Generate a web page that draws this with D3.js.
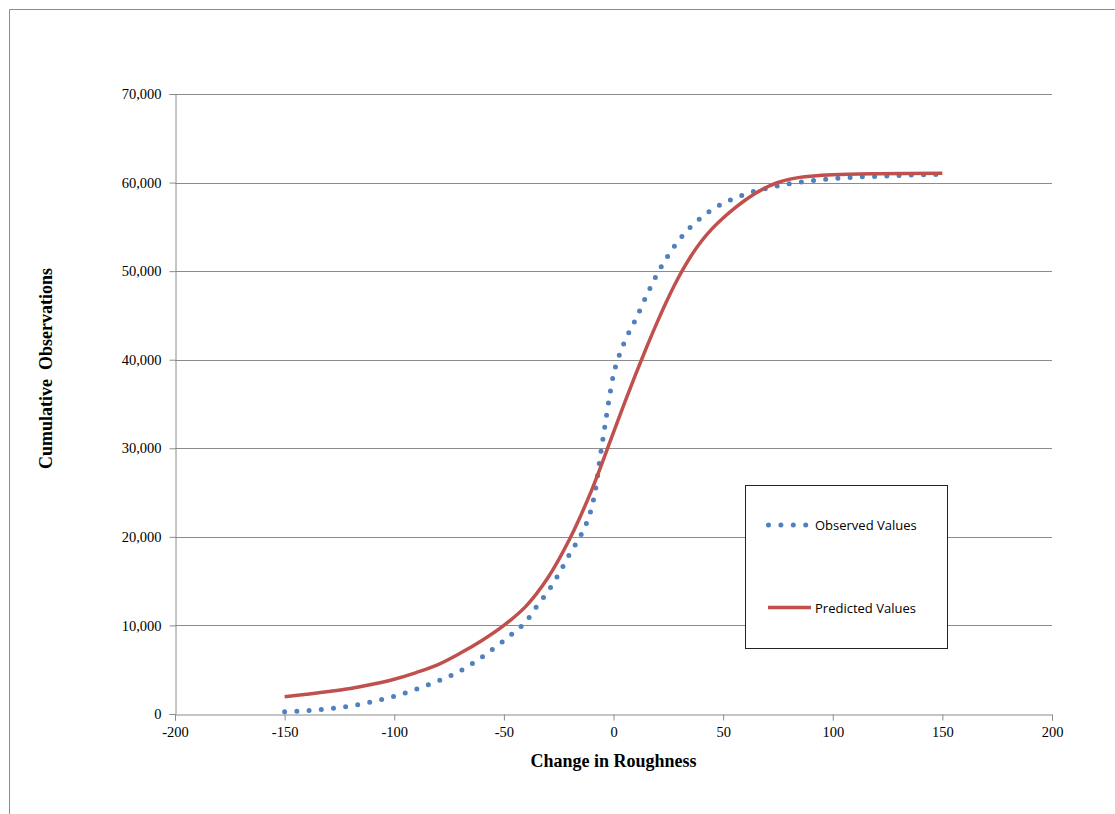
<!DOCTYPE html>
<html>
<head>
<meta charset="utf-8">
<script src="https://cdn.jsdelivr.net/npm/d3@7/dist/d3.min.js"></script>
<style>
  html, body { margin: 0; padding: 0; background: #fff; }
  svg { display: block; }
</style>
</head>
<body>
<svg id="chart" width="1115" height="814"></svg>
<script>
// ---- Data ----
const observedX = [-150,-140,-130,-120,-110,-100,-90,-80,-70,-60,-50,-45,-40,-35,-30,-25,-20,-15,-12,-10,-8,-6,-4,-2,0,2,5,10,15,20,25,30,35,40,45,50,55,60,65,70,80,90,100,110,120,130,140,150];
const observedY = [250,370,580,900,1400,2000,2800,3720,4850,6430,8280,9300,10400,12170,13800,15800,18050,20150,21750,23250,25660,29150,32370,35570,38330,40050,42000,44500,47200,49700,51800,53550,54950,56050,56950,57650,58200,58680,59070,59350,59870,60200,60450,60610,60700,60800,60870,60950];

const predictedX = [-150,-140,-130,-120,-110,-100,-90,-80,-70,-60,-50,-40,-30,-20,-10,0,5,10,15,20,25,30,35,40,45,50,55,60,65,70,75,80,85,90,100,120,150];
const predictedY = [1950,2230,2530,2880,3350,3930,4680,5580,6850,8300,10000,12150,15350,19750,25250,31800,35100,38300,41350,44275,47000,49450,51575,53350,54800,56000,57050,58000,58825,59500,60010,60360,60585,60720,60880,60990,61050];

const xTicks = [-200,-150,-100,-50,0,50,100,150,200];
const yTicks = [0,10000,20000,30000,40000,50000,60000,70000];

const seriesNames = ["Observed Values", "Predicted Values"];
const seriesColors = ["#4F81BD", "#C0504D"];

const xTitle = "Change in Roughness";
const yTitle = "Cumulative  Observations";

// ---- Layout ----
const svg = d3.select("#chart");
const plot = { left: 175, right: 1052, top: 94, bottom: 714 };

const x = d3.scaleLinear().domain([-200, 200]).range([plot.left, plot.right]);
const y = d3.scaleLinear().domain([0, 70000]).range([plot.bottom, plot.top]);

// Outer chart border (top and left visible)
svg.append("path")
  .attr("d", "M9.5,814 L9.5,9.5 L1115,9.5")
  .attr("fill", "none").attr("stroke", "#8c8c8c").attr("stroke-width", 1);

// Gridlines
svg.append("g")
  .selectAll("line")
  .data(yTicks.filter(d => d > 0))
  .join("line")
  .attr("x1", plot.left).attr("x2", plot.right)
  .attr("y1", d => Math.round(y(d)) + 0.5).attr("y2", d => Math.round(y(d)) + 0.5)
  .attr("stroke", "#8c8c8c").attr("stroke-width", 1);

const fmt = d3.format(",");

// Y axis
const yAxis = svg.append("g")
  .attr("transform", `translate(${plot.left + 0.5},0)`)
  .call(d3.axisLeft(y).tickValues(yTicks).tickFormat(d => fmt(d)).tickSize(6).tickPadding(8));
yAxis.select(".domain").attr("stroke", "#8c8c8c");
yAxis.selectAll(".tick line").attr("stroke", "#8c8c8c");
yAxis.selectAll(".tick text")
  .attr("font-family", "'Liberation Serif', 'Times New Roman', serif")
  .attr("font-size", 14.5).attr("fill", "#000");

// X axis
const xAxis = svg.append("g")
  .attr("transform", `translate(0,${plot.bottom + 0.5})`)
  .call(d3.axisBottom(x).tickValues(xTicks).tickFormat(d => d).tickSize(6).tickPadding(6));
xAxis.select(".domain").attr("stroke", "#8c8c8c");
xAxis.selectAll(".tick line").attr("stroke", "#8c8c8c");
xAxis.selectAll(".tick text")
  .attr("font-family", "'Liberation Serif', 'Times New Roman', serif")
  .attr("font-size", 14.5).attr("fill", "#000");

// Axis titles
svg.append("text")
  .attr("x", (plot.left + plot.right) / 2).attr("y", 767)
  .attr("text-anchor", "middle")
  .attr("font-family", "'Liberation Serif', 'Times New Roman', serif")
  .attr("font-weight", "bold").attr("font-size", 18)
  .text(xTitle);

svg.append("text")
  .attr("transform", `translate(52,${(263 + 474) / 2}) rotate(-90)`)
  .attr("text-anchor", "middle")
  .attr("font-family", "'Liberation Serif', 'Times New Roman', serif")
  .attr("font-weight", "bold").attr("font-size", 18)
  .style("white-space", "pre")
  .text(yTitle);

// Series
const lineObs = d3.line().x(d => x(d[0])).y(d => y(d[1])).curve(d3.curveMonotoneX);
const linePred = d3.line().x(d => x(d[0])).y(d => y(d[1])).curve(d3.curveCatmullRom.alpha(0.5));

const obs = observedX.map((v, i) => [v, observedY[i]]);
const pred = predictedX.map((v, i) => [v, predictedY[i]]);

svg.append("path")
  .datum(obs)
  .attr("d", lineObs)
  .attr("fill", "none")
  .attr("stroke", seriesColors[0])
  .attr("stroke-width", 5)
  .attr("stroke-linecap", "round")
  .attr("stroke-dasharray", "0 12.25");

svg.append("path")
  .datum(pred)
  .attr("d", linePred)
  .attr("fill", "none")
  .attr("stroke", seriesColors[1])
  .attr("stroke-width", 3.5)
  .attr("stroke-linejoin", "round");

// Legend
const lg = svg.append("g");
lg.append("rect")
  .attr("x", 745.5).attr("y", 485.5).attr("width", 202).attr("height", 163)
  .attr("fill", "#fff").attr("stroke", "#222").attr("stroke-width", 1);

const legendRows = [
  { y: 525, name: seriesNames[0], color: seriesColors[0], dotted: true },
  { y: 607.5, name: seriesNames[1], color: seriesColors[1], dotted: false }
];
legendRows.forEach(r => {
  const l = lg.append("line")
    .attr("x1", r.dotted ? 768.5 : 768).attr("x2", r.dotted ? 806 : 811)
    .attr("y1", r.y).attr("y2", r.y)
    .attr("stroke", r.color);
  if (r.dotted) {
    l.attr("stroke-width", 5).attr("stroke-linecap", "round").attr("stroke-dasharray", "0 12.4");
  } else {
    l.attr("stroke-width", 3.5);
  }
  lg.append("text")
    .attr("x", 815).attr("y", r.y + 5)
    .attr("font-family", "'Open Sans', 'Noto Sans', sans-serif")
    .attr("font-size", 13).attr("fill", "#000")
    .text(r.name);
});
</script>
</body>
</html>
